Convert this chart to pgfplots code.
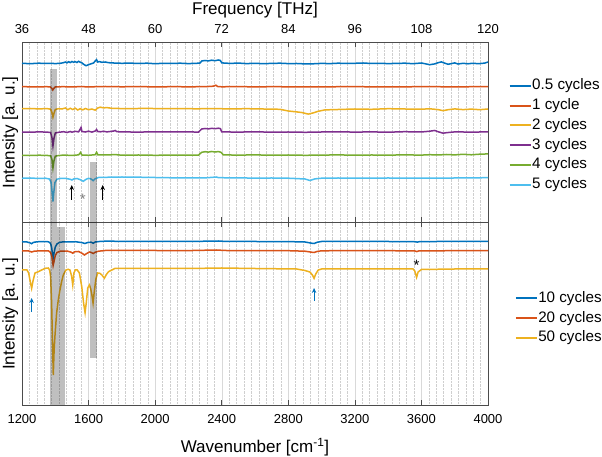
\documentclass[border=0pt]{standalone}
\usepackage{fontspec}
\setmainfont{Liberation Sans}
\usepackage{pgfplots}
\pgfplotsset{compat=1.18}
\usetikzlibrary{arrows.meta}
\definecolor{c1}{HTML}{0072BD}
\definecolor{c2}{HTML}{D95319}
\definecolor{c3}{HTML}{EDB120}
\definecolor{c4}{HTML}{7E2F8E}
\definecolor{c5}{HTML}{77AC30}
\definecolor{c6}{HTML}{4DBEEE}
\pgfplotsset{
  panel/.style={
    scale only axis, width=466pt, xmin=1200, xmax=4000,
    xtick={1200,1600,...,4000}, minor x tick num=8,
    ytick=\empty,
    tick align=inside, major tick length=5pt, minor tick length=0pt,
    xmajorgrids, xminorgrids,
    major grid style={gray!30, line width=0.4pt},
    minor grid style={gray!38, densely dotted, line width=0.4pt},
    axis line style={black!70, line width=0.6pt},
    every tick/.style={black!70, line width=0.6pt},
    tick label style={font=\fontsize{13}{15}\selectfont, inner sep=0pt, text depth=0pt, text height=9.3pt},
    /pgf/number format/assume math mode=true,
    /pgf/number format/1000 sep={},
    label style={font=\fontsize{17}{20}\selectfont},
    ylabel style={at={(axis description cs:-0.025,0.5)}, anchor=center, rotate=0},
    every axis plot/.append style={line width=1.5pt},
    legend cell align=left,
    legend image code/.code={\draw[##1, line width=2pt] (0pt,0pt) -- (21pt,0pt);},
    legend style={draw=none, fill=none, anchor=north west,
      font=\fontsize{15.2}{18}\selectfont, inner sep=0pt, row sep=4.4pt,
      nodes={inner sep=0.5pt, text height=11pt, text depth=3.4pt}},
  }
}
\begin{document}
\begin{tikzpicture}
\path[use as bounding box] (0,0) rectangle (602pt,457pt);
% ---------------- top panel ----------------
\begin{axis}[panel, at={(22pt,234.5pt)}, anchor=south west,
  height=180pt, ymin=0, ymax=180,
  xtick pos=both, xticklabel pos=right,
  xticklabels={36,48,60,72,84,96,108,120},
  xticklabel shift=9pt,
  xlabel={Frequency [THz]},
  xlabel style={at={(axis description cs:0.5,1.153)}, anchor=base},
  ylabel={Intensity [a. u.]},
  legend style={at={(axis description cs:1.044,0.803)}},
  clip=false]
\addplot[c1] coordinates {(1200,159.2)(1250,158.8)(1300,159.3)(1350,159.0)(1380,159.1)(1400,158.9)(1430,159.2)(1450,159.8)(1460,160.5)(1470,159.6)(1480,160.8)(1490,159.9)(1500,161.0)(1510,160.2)(1520,160.9)(1530,160.0)(1540,161.2)(1550,160.3)(1560,159.6)(1570,158.2)(1585,156.8)(1600,157.8)(1615,158.7)(1630,159.5)(1640,161.5)(1648,162.8)(1655,160.5)(1665,160.9)(1680,160.2)(1700,160.5)(1720,159.8)(1750,159.5)(1800,159.2)(1850,159.4)(1900,159.0)(1950,159.3)(2000,158.8)(2050,159.2)(2100,159.0)(2150,159.3)(2200,158.9)(2250,159.2)(2270,159.5)(2280,161.5)(2300,162.0)(2320,161.6)(2340,162.3)(2360,161.8)(2380,162.5)(2392,162.0)(2400,159.6)(2450,159.1)(2500,159.4)(2550,158.9)(2600,159.2)(2650,158.8)(2700,159.1)(2750,159.3)(2800,158.9)(2850,159.0)(2900,158.6)(2950,158.7)(3000,159.1)(3050,158.9)(3100,159.3)(3150,159.0)(3200,159.2)(3250,159.5)(3300,159.0)(3350,159.2)(3400,158.9)(3450,159.1)(3500,159.3)(3550,158.8)(3600,159.5)(3650,157.8)(3680,158.6)(3700,159.8)(3720,160.6)(3740,159.3)(3760,158.2)(3780,158.9)(3800,159.6)(3820,158.5)(3850,159.2)(3880,158.7)(3900,159.1)(3950,158.9)(3980,159.4)(4000,160.5)};
\addlegendentry{0.5 cycles}
\addplot[c2] coordinates {(1200,135.8)(1300,135.6)(1350,135.8)(1370,135.5)(1380,134.0)(1385,132.5)(1392,134.2)(1400,135.6)(1450,135.8)(1500,135.5)(1550,135.9)(1600,135.6)(1650,135.8)(1700,136.0)(1800,135.7)(1900,135.9)(2000,135.6)(2100,135.8)(2200,135.7)(2300,135.8)(2350,136.3)(2365,137.3)(2375,136.0)(2400,135.7)(2500,135.9)(2600,135.6)(2700,135.8)(2800,135.7)(2900,135.5)(3000,135.7)(3200,135.8)(3400,135.6)(3600,135.8)(3800,135.7)(4000,135.8)};
\addlegendentry{1 cycle}
\addplot[c3] coordinates {(1200,113.8)(1250,114.0)(1300,113.6)(1350,113.9)(1372,113.3)(1380,110.0)(1386,105.3)(1392,109.0)(1400,113.0)(1420,113.8)(1440,113.5)(1460,114.5)(1475,112.8)(1490,114.2)(1505,113.0)(1520,114.3)(1535,112.5)(1550,113.8)(1565,112.6)(1580,114.0)(1600,112.8)(1620,113.5)(1640,112.3)(1655,114.5)(1670,115.3)(1690,114.6)(1710,114.9)(1740,114.2)(1780,114.0)(1850,113.9)(1950,114.1)(2050,113.8)(2150,113.9)(2250,113.7)(2350,113.9)(2450,113.6)(2550,113.8)(2650,113.5)(2750,113.2)(2800,111.5)(2850,110.6)(2880,110.0)(2920,108.4)(2950,109.6)(2980,111.2)(3020,112.6)(3100,113.0)(3200,113.5)(3300,113.2)(3400,113.8)(3500,113.5)(3600,113.3)(3650,113.7)(3700,112.9)(3730,111.8)(3760,112.8)(3800,113.6)(3850,112.9)(3900,113.4)(3950,112.8)(4000,113.5)};
\addlegendentry{2 cycles}
\addplot[c4] coordinates {(1200,90.5)(1250,90.3)(1300,90.6)(1350,90.4)(1372,90.0)(1380,85.0)(1386,76.5)(1392,84.0)(1400,89.5)(1420,90.2)(1450,90.8)(1470,90.0)(1490,91.0)(1500,90.3)(1520,91.2)(1540,90.6)(1550,93.5)(1555,95.0)(1560,91.0)(1580,90.5)(1600,91.3)(1620,90.4)(1640,91.5)(1648,93.0)(1655,91.0)(1670,90.7)(1690,91.2)(1710,90.6)(1750,91.4)(1760,92.0)(1770,90.8)(1800,90.6)(1900,90.4)(2000,90.7)(2100,90.5)(2200,90.6)(2260,90.4)(2280,93.5)(2300,94.0)(2320,93.6)(2340,94.2)(2360,93.8)(2380,94.3)(2392,93.9)(2400,90.6)(2500,90.4)(2600,90.7)(2700,90.3)(2800,90.5)(2900,90.2)(3000,90.5)(3100,90.7)(3200,90.4)(3300,90.6)(3400,90.3)(3500,90.8)(3600,90.5)(3650,91.3)(3680,92.0)(3700,90.8)(3730,89.3)(3750,89.8)(3800,90.6)(3900,90.4)(4000,90.6)};
\addlegendentry{3 cycles}
\addplot[c5] coordinates {(1200,67.2)(1250,67.0)(1300,67.3)(1350,67.1)(1372,66.6)(1380,63.0)(1386,54.5)(1392,61.5)(1400,66.3)(1420,67.0)(1450,67.4)(1500,67.1)(1540,67.6)(1552,70.0)(1560,67.5)(1600,67.2)(1640,67.8)(1648,70.3)(1656,67.6)(1700,67.5)(1760,67.9)(1800,67.3)(1900,67.5)(2000,67.2)(2100,67.4)(2200,67.3)(2260,67.4)(2280,70.2)(2300,70.8)(2320,70.4)(2340,71.0)(2360,70.5)(2380,70.9)(2395,70.3)(2410,67.6)(2500,67.4)(2600,67.6)(2700,67.3)(2800,67.5)(2900,67.2)(3000,67.4)(3100,67.6)(3200,67.3)(3300,67.5)(3400,67.4)(3500,67.6)(3600,67.4)(3650,67.8)(3700,67.5)(3750,68.0)(3800,67.6)(3850,68.2)(3900,67.7)(3950,68.3)(4000,68.6)};
\addlegendentry{4 cycles}
\addplot[c6] coordinates {(1200,44.2)(1250,44.5)(1300,44.0)(1340,44.3)(1365,43.5)(1375,40.0)(1381,30.0)(1386,21.0)(1391,30.0)(1398,40.0)(1410,43.3)(1430,44.0)(1460,44.2)(1490,43.2)(1500,42.5)(1510,43.5)(1530,44.0)(1550,42.8)(1568,41.2)(1585,43.2)(1600,44.2)(1615,43.5)(1628,41.8)(1640,43.8)(1660,45.0)(1700,45.2)(1800,45.5)(1900,45.3)(2000,45.0)(2100,44.7)(2200,44.5)(2300,44.6)(2370,45.5)(2380,44.8)(2500,44.6)(2600,44.4)(2700,44.5)(2800,44.3)(2900,43.5)(2930,42.0)(2960,43.6)(3000,44.3)(3100,44.5)(3200,44.3)(3400,44.5)(3600,44.3)(3800,44.5)(4000,44.8)};
\addlegendentry{5 cycles}
\draw[-{Stealth[length=5pt,width=4.5pt]}, line width=1.1pt] (axis cs:1499,22.5) -- (axis cs:1499,37.5);
\draw[-{Stealth[length=5pt,width=4.5pt]}, line width=1.1pt] (axis cs:1685,22.5) -- (axis cs:1685,37.5);
\node[anchor=base, text=gray, font=\fontsize{15}{15}\selectfont, inner sep=0pt] at (axis cs:1565,17.5) {*};
\end{axis}
% ---------------- bottom panel ----------------
\begin{axis}[panel, at={(22pt,52pt)}, anchor=south west,
  height=182.5pt, ymin=0, ymax=182.5,
  xtick pos=both, xticklabel pos=left,
  xticklabel shift=9pt,
  xlabel={Wavenumber [cm\textsuperscript{-1}]},
  xlabel style={at={(axis description cs:0.5,-0.261)}, anchor=base},
  ylabel={Intensity [a. u.]},
  legend style={at={(axis description cs:1.057,0.627)}},
  clip=false]
\addplot[c1] coordinates {(1200,163.3)(1230,163.0)(1250,162.0)(1258,161.3)(1268,162.6)(1290,163.2)(1330,163.5)(1360,163.2)(1372,161.5)(1378,157.5)(1384,150.0)(1388,147.5)(1393,152.5)(1400,158.0)(1410,161.0)(1425,162.6)(1450,163.2)(1500,163.0)(1520,163.3)(1560,162.4)(1578,161.5)(1595,162.5)(1615,162.8)(1628,161.8)(1640,163.0)(1670,163.6)(1700,163.8)(1800,163.7)(2000,163.6)(2200,163.5)(2380,164.0)(2420,163.6)(2600,163.5)(2800,163.4)(2900,163.0)(2940,161.8)(2955,161.5)(2975,162.8)(3000,163.5)(3200,163.6)(3400,163.5)(3560,163.3)(3575,162.9)(3590,163.4)(3800,163.6)(4000,163.6)};
\addlegendentry{10 cycles}
\addplot[c2] coordinates {(1200,154.2)(1240,154.0)(1258,153.0)(1275,153.9)(1320,154.2)(1360,154.0)(1372,152.5)(1380,148.0)(1387,139.5)(1393,144.0)(1400,149.5)(1410,152.5)(1430,153.8)(1470,154.0)(1495,152.8)(1505,151.8)(1515,153.2)(1540,153.5)(1560,151.8)(1575,150.0)(1590,151.6)(1605,153.0)(1615,152.6)(1628,151.5)(1640,152.8)(1660,153.8)(1700,154.5)(1800,154.6)(2000,154.5)(2200,154.4)(2370,155.0)(2420,154.5)(2600,154.4)(2800,154.3)(2900,153.8)(2940,152.8)(2955,152.5)(2975,153.6)(3000,154.2)(3200,154.4)(3400,154.3)(3560,154.1)(3572,153.4)(3585,154.1)(3800,154.3)(4000,154.4)};
\addlegendentry{20 cycles}
\addplot[c3] coordinates {(1200,135)(1230,135)(1240,132)(1250,123)(1258,116.7)(1266,124)(1278,132)(1298,133.3)(1318,135)(1340,136.7)(1358,137)(1366,135)(1372,128)(1378,102)(1383,65)(1388,30)(1393,55)(1398,69)(1408,92)(1418,105)(1428,115)(1438,123.3)(1448,130)(1464,135)(1478,135.7)(1488,135)(1498,129)(1505,120)(1512,132)(1520,135)(1532,135)(1545,132)(1559,118.3)(1570,102)(1579,92.3)(1586,102)(1595,117)(1605,120)(1613,116)(1620,110)(1627,102)(1634,113)(1644,126)(1655,132)(1668,131.7)(1680,130)(1695,126.7)(1705,130)(1720,133.3)(1740,135)(1760,136.7)(1800,136.7)(1900,136.5)(2000,136.6)(2200,136.5)(2400,137)(2600,136.5)(2850,136)(2900,134.5)(2930,133)(2945,130)(2955,126.7)(2965,131)(2980,135)(3000,136)(3200,136.2)(3400,136)(3550,136)(3560,134)(3571,127.7)(3580,133)(3600,135.5)(3800,136)(4000,136)};
\addlegendentry{50 cycles}
% shaded bands
\fill[black, opacity=0.25] (axis cs:1368,0) rectangle (axis cs:1410,336);
\fill[black, opacity=0.25] (axis cs:1413,0) rectangle (axis cs:1457,178.3);
\fill[black, opacity=0.25] (axis cs:1609,47.3) rectangle (axis cs:1652,242.7);
\draw[c1, -{Stealth[length=5pt,width=4.5pt]}, line width=1.1pt] (axis cs:1258,93.3) -- (axis cs:1258,107);
\draw[c1, -{Stealth[length=5pt,width=4.5pt]}, line width=1.1pt] (axis cs:2955,104) -- (axis cs:2955,117);
\node[anchor=base, font=\fontsize{15}{15}\selectfont, inner sep=0pt] at (axis cs:3571,134.3) {*};
\end{axis}
\end{tikzpicture}
\end{document}
